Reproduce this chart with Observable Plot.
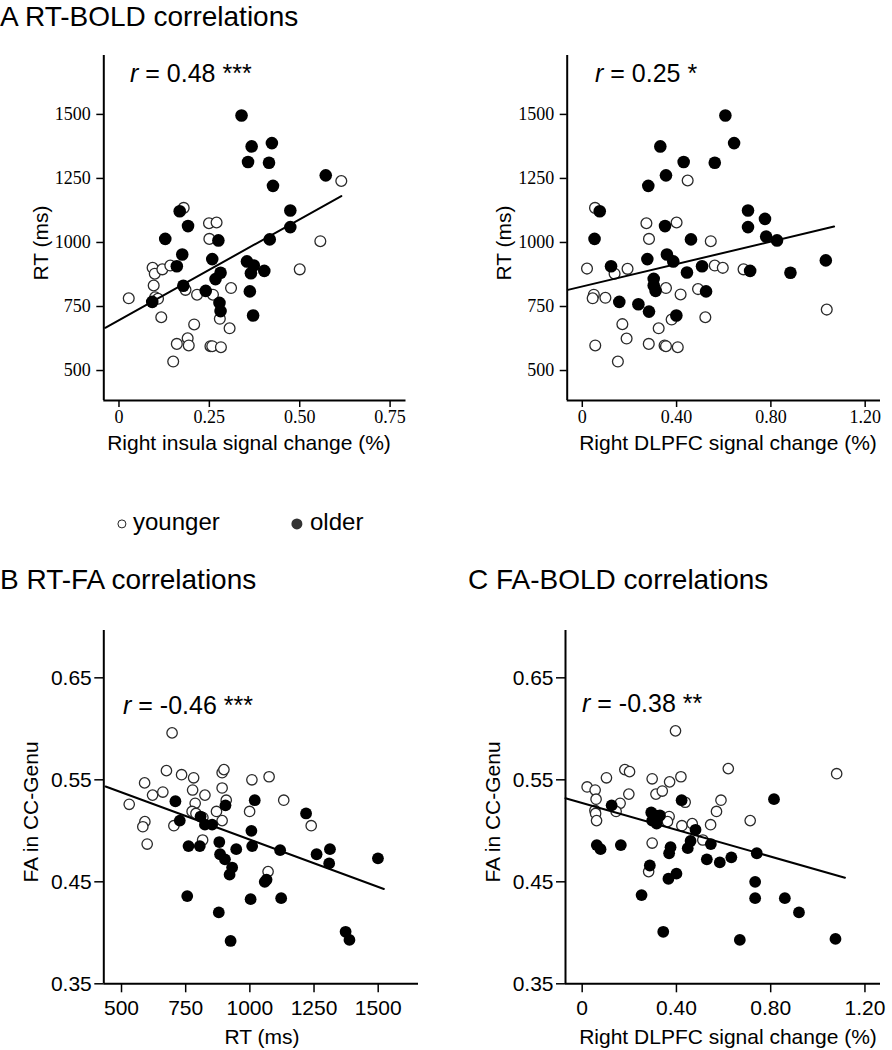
<!DOCTYPE html>
<html>
<head>
<meta charset="utf-8">
<script src="https://cdn.jsdelivr.net/npm/d3@7"></script>
<script src="https://cdn.jsdelivr.net/npm/@observablehq/plot@0.6"></script>
<style>
  html, body { margin: 0; padding: 0; background: #fff; }
  #root { position: relative; width: 892px; height: 1050px; background: #fff; font-family: "Liberation Sans", Arial, sans-serif; color: #000; overflow: hidden; }
  .t { position: absolute; white-space: nowrap; line-height: 1; transform: translateY(-50%); }
  .rot { position: absolute; white-space: nowrap; line-height: 1; transform: translate(-50%, -50%) rotate(-90deg); }
  .ctr { position: absolute; white-space: nowrap; line-height: 1; transform: translate(-50%, -50%); }
  .pan { position: absolute; }
  .dot { position: absolute; border-radius: 50%; transform: translate(-50%, -50%); box-sizing: border-box; }
</style>
</head>
<body>
<div id="root"></div>
<script>
// ---------- Data ----------
// Panel A (left): Right insula signal change (%) vs RT (ms)
const a1Older = [[0.339,1496],[0.367,1375],[0.423,1388],[0.357,1314],[0.415,1311],[0.426,1221],[0.572,1262],[0.168,1122],[0.474,1125],[0.191,1064],[0.474,1060],[0.128,1014],[0.275,1008],[0.417,1012],[0.175,953],[0.258,935],[0.160,907],[0.354,926],[0.373,910],[0.365,880],[0.402,889],[0.281,882],[0.267,857],[0.178,831],[0.240,811],[0.362,809],[0.092,768],[0.278,764],[0.281,732],[0.371,715]];
const a1Younger = [[0.179,1135],[0.249,1075],[0.270,1078],[0.250,1014],[0.557,1005],[0.500,895],[0.093,901],[0.099,878],[0.120,895],[0.142,910],[0.096,832],[0.100,786],[0.108,780],[0.027,782],[0.184,815],[0.216,796],[0.260,796],[0.310,822],[0.117,708],[0.279,702],[0.208,680],[0.306,665],[0.160,604],[0.190,626],[0.193,598],[0.253,595],[0.258,595],[0.282,591],[0.150,535],[0.615,1240]];
const a1Fit = [[-0.038,667],[0.615,1181]];

// Panel A (right): Right DLPFC signal change (%) vs RT (ms)
const a2Older = [[0.607,1496],[0.644,1388],[0.331,1375],[0.430,1314],[0.562,1311],[0.355,1262],[0.280,1221],[0.074,1122],[0.351,1064],[0.052,1014],[0.461,1012],[0.276,935],[0.359,953],[0.386,926],[0.122,907],[0.508,907],[0.444,883],[0.303,858],[0.303,832],[0.311,811],[0.525,809],[0.157,768],[0.238,759],[0.283,730],[0.399,715],[0.703,1125],[0.703,1060],[0.712,889],[0.775,1092],[0.780,1023],[0.826,1008],[0.883,882],[1.033,930]];
const a2Younger = [[0.447,1242],[0.054,1135],[0.272,1075],[0.400,1078],[0.283,1014],[0.545,1005],[0.020,898],[0.137,878],[0.192,897],[0.562,910],[0.596,901],[0.684,895],[0.049,796],[0.044,782],[0.098,784],[0.355,822],[0.417,797],[0.491,818],[0.379,699],[0.522,708],[0.170,681],[0.324,665],[0.055,598],[0.188,625],[0.282,604],[0.349,598],[0.355,595],[0.405,591],[0.151,535],[1.037,738]];
const a2Fit = [[-0.061,815],[1.068,1062]];

// Panel B: RT (ms) vs FA in CC-Genu
const bOlder = [[710,0.529],[727,0.510],[905,0.525],[1019,0.530],[808,0.514],[825,0.506],[853,0.506],[761,0.485],[805,0.485],[881,0.489],[947,0.482],[1006,0.500],[1009,0.485],[1118,0.481],[1219,0.517],[1260,0.477],[1312,0.482],[1309,0.468],[1499,0.473],[884,0.477],[903,0.472],[931,0.464],[921,0.457],[1058,0.450],[1065,0.452],[756,0.436],[1003,0.433],[1122,0.434],[879,0.420],[925,0.392],[1373,0.401],[1388,0.393]];
const bYounger = [[530,0.526],[590,0.547],[621,0.535],[661,0.538],[697,0.596],[675,0.559],[734,0.555],[781,0.552],[777,0.540],[825,0.535],[787,0.527],[775,0.519],[790,0.517],[817,0.513],[870,0.519],[892,0.510],[892,0.557],[899,0.560],[892,0.542],[908,0.530],[999,0.519],[1008,0.550],[1075,0.553],[1132,0.530],[1239,0.505],[591,0.509],[583,0.504],[600,0.487],[704,0.505],[816,0.491],[1071,0.460]];
const bFit = [[438,0.5435],[1522,0.443]];

// Panel C: Right DLPFC signal change (%) vs FA in CC-Genu
const cOlder = [[0.125,0.525],[0.062,0.486],[0.078,0.482],[0.164,0.486],[0.422,0.530],[0.814,0.531],[0.293,0.518],[0.311,0.515],[0.330,0.515],[0.297,0.510],[0.316,0.507],[0.481,0.501],[0.460,0.490],[0.448,0.483],[0.546,0.487],[0.375,0.484],[0.369,0.478],[0.529,0.472],[0.584,0.469],[0.633,0.474],[0.741,0.478],[0.287,0.466],[0.366,0.453],[0.400,0.458],[0.734,0.450],[0.734,0.434],[0.860,0.434],[0.920,0.420],[0.252,0.437],[0.344,0.401],[0.669,0.393],[1.075,0.394]];
const cYounger = [[0.021,0.543],[0.055,0.540],[0.059,0.531],[0.054,0.520],[0.057,0.517],[0.061,0.510],[0.103,0.552],[0.181,0.560],[0.201,0.558],[0.198,0.536],[0.161,0.527],[0.144,0.519],[0.297,0.551],[0.313,0.536],[0.340,0.539],[0.371,0.548],[0.419,0.553],[0.396,0.598],[0.437,0.528],[0.369,0.514],[0.362,0.509],[0.423,0.505],[0.467,0.507],[0.512,0.491],[0.545,0.506],[0.570,0.519],[0.589,0.530],[0.620,0.561],[0.713,0.510],[1.080,0.556],[0.297,0.488],[0.282,0.460]];
const cFit = [[-0.071,0.532],[1.115,0.454]];

// Tick labels
const insulaTicks = [0, 0.25, 0.5, 0.75];
const dlpfcTicks = [0, 0.4, 0.8, 1.2];
const rtTicks = [500, 750, 1000, 1250, 1500];
const faTicks = [0.35, 0.45, 0.55, 0.65];

const groups = ["younger", "older"];
const titles = ["A RT-BOLD correlations", "B RT-FA correlations", "C FA-BOLD correlations"];
const rLabels = [["0.48", "***"], ["0.25", "*"], ["-0.46", "***"], ["-0.38", "**"]];

// ---------- Drawing ----------
const root = document.getElementById("root");
const fmt0 = d => d === 0 ? "0" : d3.format(".2f")(d);

function panel(o) {
  const svg = Plot.plot({
    width: o.width, height: o.height,
    marginLeft: o.ml, marginRight: o.mr, marginTop: o.mt, marginBottom: o.mb,
    style: {fontFamily: o.font, fontSize: o.fontSize + "px", color: "#000", background: "transparent", overflow: "visible"},
    x: {domain: o.xDomain},
    y: {domain: o.yDomain},
    marks: [
      Plot.axisY({ticks: o.yTicks, tickFormat: o.yFmt, tickSize: o.tickSize, tickPadding: o.yPad, label: null, strokeWidth: 1.5}),
      Plot.axisX({ticks: o.xTicks, tickFormat: o.xFmt, tickSize: o.tickSize, tickPadding: o.xPad, label: null, strokeWidth: 1.5}),
      Plot.ruleX([o.xDomain[0]], {stroke: "#000", strokeWidth: 2}),
      Plot.ruleY([o.yDomain[0]], {stroke: "#000", strokeWidth: 2}),
      Plot.dot(o.younger, {x: d => d[0], y: d => d[1], r: o.rY, fill: "#fff", stroke: "#2a2a2a", strokeWidth: 1.3}),
      Plot.dot(o.older, {x: d => d[0], y: d => d[1], r: o.rO, fill: "#000", stroke: "none"}),
      Plot.line(o.fit, {x: d => d[0], y: d => d[1], stroke: "#000", strokeWidth: 2})
    ]
  });
  const wrap = document.createElement("div");
  wrap.className = "pan";
  wrap.style.left = o.left + "px";
  wrap.style.top = o.top + "px";
  wrap.appendChild(svg);
  root.appendChild(wrap);
}

const serif = "'Liberation Serif', 'Times New Roman', serif";
const sans = "'Liberation Sans', Arial, sans-serif";

panel({left: 0, top: 40, width: 420, height: 420, ml: 103.3, mr: 14.5, mt: 15, mb: 60,
  xDomain: [-0.042, 0.794], yDomain: [383, 1730], xTicks: insulaTicks, yTicks: rtTicks,
  xFmt: fmt0, yFmt: d => String(d), font: serif, fontSize: 18, tickSize: 7, xPad: 3, yPad: 6,
  younger: a1Younger, older: a1Older, fit: a1Fit, rO: 6.3, rY: 5.4});

panel({left: 460, top: 40, width: 432, height: 420, ml: 106.7, mr: 12, mt: 15, mb: 60,
  xDomain: [-0.064, 1.265], yDomain: [383, 1730], xTicks: dlpfcTicks, yTicks: rtTicks,
  xFmt: fmt0, yFmt: d => String(d), font: serif, fontSize: 18, tickSize: 7, xPad: 3, yPad: 6,
  younger: a2Younger, older: a2Older, fit: a2Fit, rO: 6.3, rY: 5.4});

panel({left: 0, top: 600, width: 430, height: 450, ml: 103.3, mr: 12, mt: 30, mb: 66.7,
  xDomain: [431, 1657], yDomain: [0.35, 0.6964], xTicks: rtTicks, yTicks: faTicks,
  xFmt: d => String(d), yFmt: d3.format(".2f"), font: sans, fontSize: 21, tickSize: 9, xPad: 7, yPad: 3,
  younger: bYounger, older: bOlder, fit: bFit, rO: 5.9, rY: 5.2});

panel({left: 460, top: 600, width: 432, height: 450, ml: 105, mr: 12, mt: 30, mb: 66.7,
  xDomain: [-0.0708, 1.266], yDomain: [0.35, 0.6964], xTicks: dlpfcTicks, yTicks: faTicks,
  xFmt: fmt0, yFmt: d3.format(".2f"), font: sans, fontSize: 21, tickSize: 9, xPad: 7, yPad: 3,
  younger: cYounger, older: cOlder, fit: cFit, rO: 5.9, rY: 5.2});

// ---------- Text overlays ----------
function txt(cls, html, left, top, size, extra) {
  const d = document.createElement("div");
  d.className = cls;
  d.innerHTML = html;
  d.style.left = left + "px";
  d.style.top = top + "px";
  d.style.fontSize = size + "px";
  if (extra) Object.assign(d.style, extra);
  root.appendChild(d);
  return d;
}
const rHtml = ([v, s]) => `<i>r</i> = ${v} ${s}`;

txt("t", titles[0], 0, 17, 28);
txt("t", titles[1], 0, 580, 28);
txt("t", titles[2], 468, 580, 28);

txt("t", rHtml(rLabels[0]), 130, 73, 25);
txt("t", rHtml(rLabels[1]), 595, 73, 25);
txt("t", rHtml(rLabels[2]), 123, 705, 25);
txt("t", rHtml(rLabels[3]), 582, 703, 25);

txt("rot", "RT (ms)", 40, 243, 21);
txt("rot", "RT (ms)", 503, 243, 21);
txt("ctr", "Right insula signal change (%)", 249, 442, 21);
txt("ctr", "Right DLPFC signal change (%)", 728, 442, 21);

txt("rot", "FA in CC-Genu", 30, 812, 21);
txt("rot", "FA in CC-Genu", 492, 812, 21);
txt("ctr", "RT (ms)", 262, 1036, 21);
txt("ctr", "Right DLPFC signal change (%)", 728, 1036, 21);

// Legend
function legendDot(cx, cy, r, fill, stroke) {
  const d = document.createElement("div");
  d.className = "dot";
  d.style.left = cx + "px"; d.style.top = cy + "px";
  d.style.width = (2 * r) + "px"; d.style.height = (2 * r) + "px";
  d.style.background = fill;
  d.style.border = stroke ? `1.5px solid ${stroke}` : "none";
  root.appendChild(d);
}
legendDot(121.7, 524, 4.6, "#fff", "#222");
txt("t", groups[0], 133, 522, 24);
legendDot(296.7, 524, 5.6, "#333", null);
txt("t", groups[1], 310, 522, 24);
</script>
</body>
</html>
